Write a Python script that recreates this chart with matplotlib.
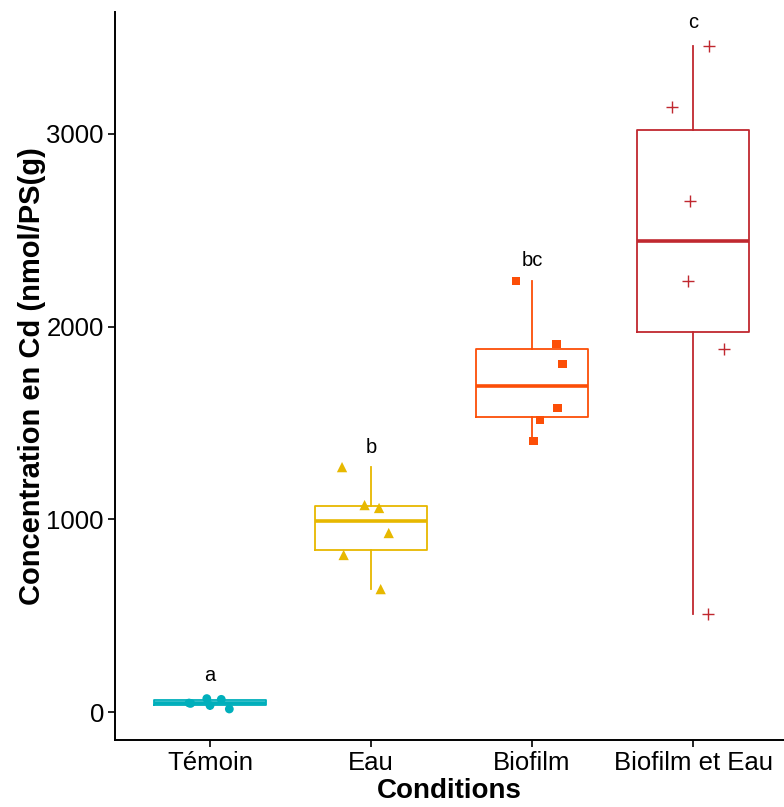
import matplotlib.pyplot as plt
import numpy as np

plt.rcParams['font.family'] = ['Liberation Sans', 'DejaVu Sans']

conditions = ['Témoin', 'Eau', 'Biofilm', 'Biofilm et Eau']
colors = ['#00AFBB', '#E7B800', '#FC4E07', '#C0282F']
markers = ['o', '^', 's', '+']
letters = ['a', 'b', 'bc', 'c']
letter_y = [192, 1375, 2345, 3580]

# valeurs
temoin = [47, 70, 34, 66, 16, 45]
eau = [1271, 1074, 1059, 929, 815, 638]
biofilm = [2237, 1910, 1806, 1578, 1515, 1406]
biofilm_eau = [3456, 3140, 2652, 2237, 1884, 509]
values = [temoin, eau, biofilm, biofilm_eau]

# decalage horizontal des points (jitter)
jitter = [
    [-0.13, -0.02, 0.0, 0.07, 0.12, -0.12],
    [-0.18, -0.04, 0.05, 0.11, -0.17, 0.06],
    [-0.10, 0.15, 0.19, 0.16, 0.05, 0.01],
    [0.10, -0.13, -0.02, -0.03, 0.19, 0.09],
]

fig = plt.figure(figsize=(7.84, 8.07), dpi=100)
ax = fig.add_axes([0.1467, 0.083, 0.8533, 0.902])

for i, (vals, col) in enumerate(zip(values, colors)):
    pos = i + 1
    ax.boxplot(vals, positions=[pos], widths=0.7, whis=1.5, showfliers=False,
               patch_artist=False,
               boxprops=dict(color=col, linewidth=1.3),
               whiskerprops=dict(color=col, linewidth=1.3),
               capprops=dict(linewidth=0),
               medianprops=dict(color=col, linewidth=2.6))
    xs = pos + np.array(jitter[i])
    if markers[i] == '+':
        ax.scatter(xs, vals, marker='+', s=70, color=col, linewidths=1.0, zorder=3)
    elif markers[i] == '^':
        ax.scatter(xs, vals, marker='^', s=55, color=col, edgecolors='none', zorder=3)
    else:
        ax.scatter(xs, vals, marker=markers[i], s=40, color=col, edgecolors='none', zorder=3)
    ax.text(pos, letter_y[i], letters[i], ha='center', va='center', fontsize=14.5)

ax.set_xlim(0.41, 4.565)
ax.set_ylim(-145, 3632)
ax.set_xticks(range(1, 5))
ax.set_xticklabels(conditions, fontsize=18.5)
ax.set_yticks([0, 1000, 2000, 3000])
ax.tick_params(axis='y', labelsize=18.5, length=5, width=1.2, colors='black', pad=3)
ax.tick_params(axis='x', length=5, width=1.2, pad=3)
for s in ['top', 'right']:
    ax.spines[s].set_visible(False)
for s in ['left', 'bottom']:
    ax.spines[s].set_linewidth(1.4)

ax.set_xlabel('Conditions', fontsize=20, fontweight='bold', labelpad=2)
ax.set_ylabel('Concentration en Cd (nmol/PS(g)', fontsize=21, fontweight='bold', labelpad=0)

fig.savefig('out.png', dpi=100)
